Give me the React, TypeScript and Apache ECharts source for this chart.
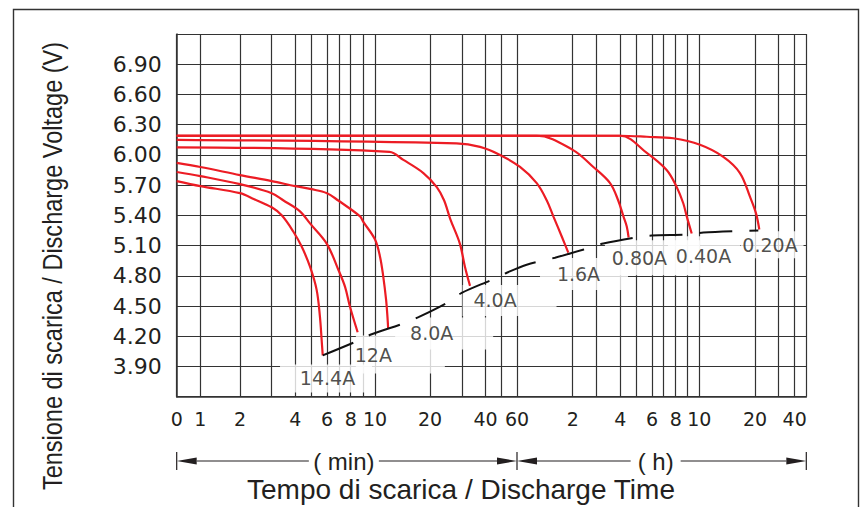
import React, { useEffect, useRef } from "react";
import * as echarts from "echarts";

// ---- axis definitions ----
// Time axis of the reference (minutes); the reference's grid is a hand-drawn, roughly logarithmic scale.
const TIME_STOPS_MIN = [0, 1, 2, 3, 4, 5, 6, 7, 8, 9, 10, 20, 30, 40, 50, 60, 120, 180, 240, 300, 360, 420, 480, 540, 600, 1200, 1800, 2400, 3000];
const TIME_STOPS_AXIS = [0, 0.0375, 0.1005, 0.1509, 0.1884, 0.2138, 0.2387, 0.2578, 0.2764, 0.2959, 0.315, 0.4023, 0.4531, 0.4905, 0.5159, 0.5405, 0.629, 0.6671, 0.7044, 0.7298, 0.7549, 0.7735, 0.7926, 0.8116, 0.8301, 0.9185, 0.9562, 0.9816, 1];
const X_LABEL_TIMES = [0, 1, 2, 4, 6, 8, 10, 20, 40, 60, 120, 240, 360, 480, 600, 1200, 2400];
const X_LABEL_TEXTS = ["0", "1", "2", "4", "6", "8", "10", "20", "40", "60", "2", "4", "6", "8", "10", "20", "40"];
const Y_MIN = 3.6;
const Y_MAX = 7.2;
const Y_STEP = 0.3;

// ---- series: [time (min), voltage (V)] ----
const CURRENTS = ["14.4A", "12A", "8.0A", "4.0A", "1.6A", "0.80A", "0.40A", "0.20A"];
const C_14_4A = [[0, 5.74], [1, 5.69], [2, 5.62], [2.4, 5.56], [3, 5.48], [3.39, 5.4], [3.9, 5.24], [4.37, 5.09], [4.91, 4.89], [5.32, 4.66], [5.53, 4.39], [5.64, 4.16], [5.71, 4.01]];
const C_12A = [[0, 5.83], [1, 5.79], [2, 5.71], [3, 5.62], [3.45, 5.55], [4.27, 5.44], [4.91, 5.32], [5.98, 5.12], [6.94, 4.86], [7.5, 4.69], [7.94, 4.49], [8.55, 4.24]];
const C_8_0A = [[0, 5.92], [1, 5.88], [2, 5.8], [3, 5.74], [4, 5.69], [5, 5.66], [6, 5.62], [6.9, 5.55], [8.75, 5.39], [9, 5.34], [10, 5.16], [10.65, 4.99], [11.1, 4.79], [11.5, 4.56], [11.7, 4.39], [11.8, 4.28]];
const C_4_0A = [[0, 6.075], [12, 6.03], [14.3, 5.95], [18.4, 5.82], [21.8, 5.68], [23.9, 5.55], [25.9, 5.36], [29.2, 5.12], [31.1, 4.89], [33.1, 4.7]];
const C_1_6A = [[0, 6.15], [28, 6.115], [37.4, 6.08], [49, 6.0], [62.3, 5.88], [76.7, 5.72], [86.8, 5.55], [94.3, 5.39], [104.7, 5.19], [113.6, 5.03]];
const C_0_80A = [[0, 6.19], [76.7, 6.19], [120, 6.05], [170, 5.88], [212, 5.72], [234, 5.55], [251, 5.39], [263, 5.29], [270, 5.18]];
const C_0_40A = [[0, 6.19], [240, 6.19], [339, 6.02], [434, 5.85], [485, 5.68], [517, 5.52], [535, 5.39], [560, 5.22]];
const C_0_20A = [[0, 6.19], [240, 6.19], [339, 6.18], [467, 6.165], [605, 6.1], [809, 5.98], [995, 5.82], [1130, 5.58], [1221, 5.42], [1292, 5.26]];
const END_LINE = [[5.71, 4.01], [8.47, 4.15], [9.71, 4.22], [14.0, 4.32], [17.3, 4.39], [24.7, 4.53], [29.9, 4.63], [43.6, 4.76], [53.2, 4.83], [67.7, 4.91], [96.3, 4.98], [152, 5.07], [195, 5.12], [295, 5.18], [359, 5.2], [551, 5.21], [631, 5.23], [1270, 5.25]];

const CURVES = [C_14_4A, C_12A, C_8_0A, C_4_0A, C_1_6A, C_0_80A, C_0_40A, C_0_20A];

// label boxes (style): offset of the white box from the curve end, padding, content width
const LABEL_STYLE = [
  { offset: [3.3, 23], padding: [2, 17, 7, 20], width: 55 },
  { offset: [42.7, 22.3], padding: [11, 54, 8, 0], width: 35 },
  { offset: [56, 5.3], padding: [9, 40, 4, 15], width: 43 },
  { offset: [39.5, 14.5], padding: [5, 40, 7, 11], width: 43 },
  { offset: [15.7, 21.3], padding: [7, 28, 6, 17], width: 43 },
  { offset: [23.8, 20.2], padding: [5, 33, 11, 7], width: 55 },
  { offset: [12.3, 22.2], padding: [1, 9, 19, 8], width: 55 },
  { offset: [12.7, 15.2], padding: [4, 6, 4, 2], width: 55 },
];

const RED = "#ec1c24";
const INK = "#231f20";
const GRID = "#333333";
const SANS = '"Liberation Sans", Arial, sans-serif';
const DEJAVU = '"DejaVu Sans", sans-serif';

function toAxis(t: number): number {
  const s = TIME_STOPS_MIN;
  const a = TIME_STOPS_AXIS;
  if (t <= s[0]) return a[0];
  for (let i = 0; i < s.length - 1; i++) {
    if (t <= s[i + 1]) {
      const f = s[i] === 0 ? t / s[i + 1] : Math.log(t / s[i]) / Math.log(s[i + 1] / s[i]);
      return a[i] + f * (a[i + 1] - a[i]);
    }
  }
  return a[a.length - 1];
}

const mapPts = (arr: number[][]) => arr.map(([t, v]) => [toAxis(t), v]);

export default function App() {
  const ref = useRef<HTMLDivElement>(null);
  useEffect(() => {
    if (!ref.current) return;
    const chart = echarts.init(ref.current, undefined, { renderer: "svg" });
    const labelTimes = X_LABEL_TIMES.map(toAxis);
    const option: any = {
      animation: false,
      grid: { left: 176.7, right: 58.7, top: 34, bottom: 110.3 },
      xAxis: {
        type: "value",
        min: 0,
        max: 1,
        axisLine: { show: true, lineStyle: { color: GRID, width: 1.5 } },
        axisTick: { show: false, customValues: TIME_STOPS_MIN.map(toAxis) },
        splitLine: { show: true, lineStyle: { color: GRID, width: 1.2 } },
        axisLabel: {
          customValues: labelTimes,
          formatter: (v: number) => {
            let best = 0;
            for (let i = 1; i < labelTimes.length; i++) if (Math.abs(labelTimes[i] - v) < Math.abs(labelTimes[best] - v)) best = i;
            return X_LABEL_TEXTS[best];
          },
          fontFamily: DEJAVU,
          fontSize: 19,
          color: INK,
          margin: 13,
        },
      },
      yAxis: {
        type: "value",
        min: Y_MIN,
        max: Y_MAX,
        interval: Y_STEP,
        axisLine: { show: true, lineStyle: { color: GRID, width: 1.5 } },
        axisTick: { show: false },
        splitLine: { show: true, lineStyle: { color: GRID, width: 1.2 } },
        axisLabel: {
          showMinLabel: false,
          showMaxLabel: false,
          formatter: (v: number) => v.toFixed(2),
          fontFamily: DEJAVU,
          fontSize: 22,
          color: INK,
          margin: 15,
        },
      },
      series: [
        ...CURVES.map((c, i) => ({
          type: "line",
          name: CURRENTS[i],
          data: mapPts(c),
          symbol: "none",
          smooth: 0.35,
          lineStyle: { color: RED, width: 2.2 },
          z: 3,
          silent: true,
        })),
        {
          type: "line",
          name: "end",
          data: mapPts(END_LINE),
          symbol: "none",
          smooth: 0.3,
          lineStyle: { color: "#111", width: 2, type: [33, 17] },
          z: 3,
          silent: true,
        },
        {
          type: "scatter",
          name: "labels",
          symbolSize: 1,
          itemStyle: { color: "rgba(0,0,0,0)" },
          z: 2,
          silent: true,
          data: CURVES.map((c, i) => {
            const last = c[c.length - 1];
            const st = LABEL_STYLE[i];
            return {
              value: [toAxis(last[0]), last[1]],
              label: {
                show: true,
                position: "inside",
                formatter: CURRENTS[i],
                fontFamily: DEJAVU,
                fontSize: 19,
                lineHeight: 19,
                height: 19,
                width: st.width,
                overflow: "none",
                color: INK,
                align: "center",
                verticalAlign: "middle",
                backgroundColor: "#ffffff",
                padding: st.padding,
                offset: st.offset,
              },
            };
          }),
        },
      ],
    };
    chart.setOption(option);

    const px = (t: number) => chart.convertToPixel({ xAxisIndex: 0 }, toAxis(t)) as number;
    const xa = px(0), xb = px(60), xc = px(3000);
    const ry = 461;
    const ah = 20, aw = 3.6;
    const arrowL = (x: number) => ({ type: "polygon", shape: { points: [[x, ry], [x + ah, ry - aw], [x + ah, ry + aw]] }, style: { fill: INK } });
    const arrowR = (x: number) => ({ type: "polygon", shape: { points: [[x, ry], [x - ah, ry - aw], [x - ah, ry + aw]] }, style: { fill: INK } });
    const bar = (x: number) => ({ type: "line", shape: { x1: x, y1: ry - 9, x2: x, y2: ry + 9 }, style: { stroke: INK, lineWidth: 1.2 } });
    const seg = (x1: number, x2: number) => ({ type: "line", shape: { x1, y1: ry, x2, y2: ry }, style: { stroke: INK, lineWidth: 1.2 } });
    const mMid = (xa + xb) / 2 - 3, hMid = (xb + xc) / 2 - 6;
    chart.setOption({
      graphic: [
        { type: "rect", shape: { x: 13.5, y: 9.5, width: 845, height: 520 }, style: { fill: "none", stroke: "#333", lineWidth: 1.4 }, silent: true },
        bar(xa), arrowL(xa), seg(xa + ah, mMid - 35), seg(mMid + 35, xb - ah), arrowR(xb),
        bar(xb), arrowL(xb), seg(xb + ah, hMid - 25), seg(hMid + 25, xc - ah), arrowR(xc), bar(xc),
        { type: "text", x: mMid, y: ry, style: { text: "( min)", font: `24px ${SANS}`, fill: INK, textAlign: "center", textVerticalAlign: "middle" } },
        { type: "text", x: hMid, y: ry, style: { text: "( h)", font: `24px ${SANS}`, fill: INK, textAlign: "center", textVerticalAlign: "middle" } },
        { type: "text", x: 461, y: 489, style: { text: "Tempo di scarica / Discharge Time", font: `28px ${SANS}`, fill: INK, textAlign: "center", textVerticalAlign: "middle" } },
        { type: "text", x: 52, y: 266, rotation: Math.PI / 2, scaleX: 0.84, style: { text: "Tensione di scarica / Discharge Voltage (V)", font: `28px ${SANS}`, fill: INK, textAlign: "center", textVerticalAlign: "middle" } },
      ],
    });
    return () => chart.dispose();
  }, []);
  return <div ref={ref} style={{ position: "fixed", left: 0, top: 0, width: 865, height: 507, background: "#fff" }} />;
}
